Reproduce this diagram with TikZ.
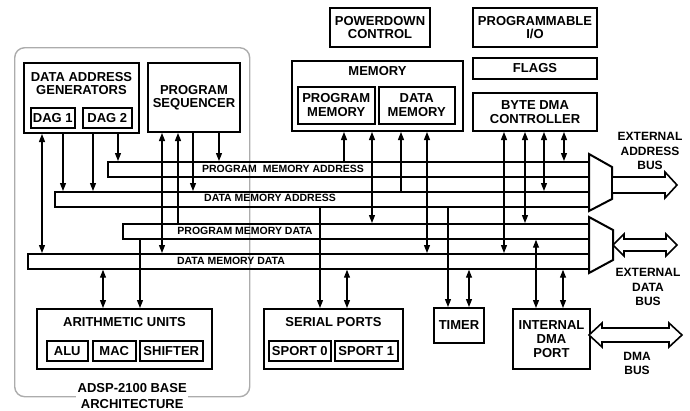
\documentclass[tikz,border=0pt]{standalone}
\usepackage{fontspec}
\setmainfont{Liberation Sans}
\usepackage{tikz}
\usetikzlibrary{arrows.meta,positioning}
\newcommand{\unitfont}{\fontsize{13}{13.5}\selectfont\bfseries}
\newcommand{\onewaybus}[3]{% tail x, tip x, centre y
  \draw[hollow] (#1,#3-8) -- (#2-12,#3-8) -- (#2-12,#3-13) -- (#2,#3) -- (#2-12,#3+13) -- (#2-12,#3+8) -- (#1,#3+8) -- cycle;}
\newcommand{\twowaybus}[5]{% left tip x, right tip x, centre y, half shaft, head length
  \draw[hollow] (#1,#3) -- (#1+#5,#3-#4-5) -- (#1+#5,#3-#4) -- (#2-#5,#3-#4) -- (#2-#5,#3-#4-5) -- (#2,#3)
    -- (#2-#5,#3+#4+5) -- (#2-#5,#3+#4) -- (#1+#5,#3+#4) -- (#1+#5,#3+#4+5) -- cycle;}
\tikzstyle{unit} = [draw, line width=2pt, inner sep=0pt, anchor=north west, align=center, font=\unitfont]
\tikzstyle{subunit} = [draw, line width=1.5pt, inner sep=0pt, anchor=north west, align=center, font=\unitfont]
\tikzstyle{unitlabel} = [inner sep=0pt, align=center, font=\unitfont]
\tikzstyle{archlabel} = [fill=white, inner sep=1.5pt, align=center, font=\fontsize{13}{15.5}\selectfont\bfseries]
\tikzstyle{base} = [draw=gray!65, line width=1.4pt, rounded corners=10pt, inner sep=0pt, anchor=north west]
\tikzstyle{bus} = [draw, line width=1.7pt, inner sep=0pt, anchor=north west, minimum height=15pt]
\tikzstyle{buslabel} = [inner sep=0pt, font=\fontsize{10.5}{11}\selectfont\bfseries]
\tikzstyle{extlabel} = [inner sep=0pt, align=center, font=\fontsize{12}{14.5}\selectfont\bfseries]
\tikzstyle{mux} = [draw, line width=2pt, fill=white, line join=miter]
\tikzstyle{hollow} = [draw, line width=1.6pt, fill=white, line join=miter]
\tikzstyle{link} = [line width=1.2pt, -{Triangle[length=8pt,width=6pt]}]
\tikzstyle{duplex} = [line width=1.2pt, {Triangle[length=8pt,width=6pt]}-{Triangle[length=8pt,width=6pt]}]
\begin{document}
\begin{tikzpicture}[x=1pt,y=-1pt]
\useasboundingbox (0,0) rectangle (690,410);

% base architecture
\node[base, minimum width=235pt, minimum height=349pt] (base) at (14,47) {};
\node[archlabel] at ([yshift=1.5pt]base.south) {ADSP-2100 BASE\\ARCHITECTURE};

% top row
\node[unit, minimum width=115pt, minimum height=70pt] (dag) at (23,62) {};
\node[unitlabel, below=10pt] at (dag.north) {DATA ADDRESS\\GENERATORS};
\node[subunit, minimum width=44pt, minimum height=20pt] (dag1) at (30,107) {DAG 1};
\node[subunit, minimum width=49pt, minimum height=20pt] (dag2) at (82,107) {DAG 2};
\node[unit, minimum width=92pt, minimum height=69pt] (seq) at (147,62) {PROGRAM\\SEQUENCER};
\node[unit, minimum width=100pt, minimum height=39pt] (pwr) at (329,7) {POWERDOWN\\CONTROL};
\node[unit, minimum width=171pt, minimum height=70pt] (mem) at (291,60) {};
\node[unitlabel, below=6pt] at (mem.north) {MEMORY};
\node[subunit, minimum width=77pt, minimum height=37pt] (pmem) at (297,86) {PROGRAM\\MEMORY};
\node[subunit, minimum width=76pt, minimum height=37pt] (dmem) at (378,86) {DATA\\MEMORY};
\node[unit, minimum width=124pt, minimum height=39pt] (pio) at (472,7) {PROGRAMMABLE\\I/O};
\node[unit, minimum width=124pt, minimum height=21pt] (flags) at (472,57) {FLAGS};
\node[unit, minimum width=124pt, minimum height=38pt] (bdma) at (472,92) {BYTE DMA\\CONTROLLER};

% buses
\node[bus, minimum width=482pt] (pma) at (107,161) {};
\node[buslabel] at (283,168.5) {PROGRAM\ \ MEMORY ADDRESS};
\node[bus, minimum width=535pt] (dma) at (54,191) {};
\node[buslabel] at (270,198) {DATA MEMORY ADDRESS};
\node[bus, minimum width=467pt] (pmd) at (122,223) {};
\node[buslabel] at (245,230.5) {PROGRAM MEMORY DATA};
\node[bus, minimum width=562pt] (dmd) at (27,253) {};
\node[buslabel] at (231,260.5) {DATA MEMORY DATA};
\draw[mux] (589,154) -- (612,167) -- (612,199) -- (589,211) -- cycle;
\draw[mux] (589,217) -- (613,230) -- (613,260) -- (589,273) -- cycle;

% bottom row
\node[unit, minimum width=175pt, minimum height=60pt] (arith) at (36,308) {};
\node[unitlabel, below=9pt] at (arith.north) {ARITHMETIC UNITS};
\node[subunit, minimum width=41pt, minimum height=20pt] (alu) at (46,340) {ALU};
\node[subunit, minimum width=43pt, minimum height=20pt] (mac) at (92,340) {MAC};
\node[subunit, minimum width=63pt, minimum height=20pt] (shift) at (139,340) {SHIFTER};
\node[unit, minimum width=139pt, minimum height=60pt] (sports) at (263,308) {};
\node[unitlabel, below=9pt] at (sports.north) {SERIAL PORTS};
\node[subunit, minimum width=62pt, minimum height=20pt] (sport0) at (268,340) {SPORT 0};
\node[subunit, minimum width=63pt, minimum height=20pt] (sport1) at (334,340) {SPORT 1};
\node[unit, minimum width=50pt, minimum height=35pt] (timer) at (433,307) {TIMER};
\node[unit, minimum width=77pt, minimum height=60pt, font=\fontsize{13}{14}\selectfont\bfseries] (idma) at (512,308) {INTERNAL\\DMA\\PORT};

% external buses
\onewaybus{612}{677}{185}
\twowaybus{613}{677}{245}{6}{11}
\twowaybus{589}{682}{335}{7}{13}
\node[extlabel] at (650,151) {EXTERNAL\\ADDRESS\\BUS};
\node[extlabel] at (648,287) {EXTERNAL\\DATA\\BUS};
\node[extlabel] at (637,363.5) {DMA\\BUS};

% connections
\draw[duplex] (42,0 |- dag.south) -- (42,0 |- dmd.north);
\draw[link] (63,0 |- dag.south) -- (63,0 |- dma.north);
\draw[link] (93,0 |- dag.south) -- (93,0 |- dma.north);
\draw[link] (118,0 |- dag.south) -- (118,0 |- pma.north);
\draw[duplex] (162,0 |- seq.south) -- (162,0 |- dmd.north);
\draw[link] (178,0 |- pmd.north) -- (178,0 |- seq.south);
\draw[link] (193,0 |- seq.south) -- (193,0 |- dma.north);
\draw[link] (219,0 |- seq.south) -- (219,0 |- pma.north);
\draw[link] (140,0 |- pmd.south) -- (140,0 |- arith.north);
\draw[duplex] (103,0 |- dmd.south) -- (103,0 |- arith.north);
\draw[link] (344,0 |- pma.north) -- (344,0 |- mem.south);
\draw[duplex] (372,0 |- mem.south) -- (372,0 |- pmd.north);
\draw[link] (401,0 |- dma.north) -- (401,0 |- mem.south);
\draw[duplex] (427,0 |- mem.south) -- (427,0 |- dmd.north);
\draw[link] (320,0 |- dma.south) -- (320,0 |- sports.north);
\draw[duplex] (347,0 |- dmd.south) -- (347,0 |- sports.north);
\draw[link] (448,0 |- dma.south) -- (448,0 |- timer.north);
\draw[duplex] (469,0 |- dmd.south) -- (469,0 |- timer.north);
\draw[duplex] (504,0 |- bdma.south) -- (504,0 |- dmd.north);
\draw[duplex] (525,0 |- bdma.south) -- (525,0 |- pmd.north);
\draw[duplex] (544,0 |- bdma.south) -- (544,0 |- dma.north);
\draw[duplex] (564,0 |- bdma.south) -- (564,0 |- pma.north);
\draw[duplex] (536,0 |- pmd.south) -- (536,0 |- idma.north);
\draw[duplex] (563,0 |- dmd.south) -- (563,0 |- idma.north);
\end{tikzpicture}
\end{document}
